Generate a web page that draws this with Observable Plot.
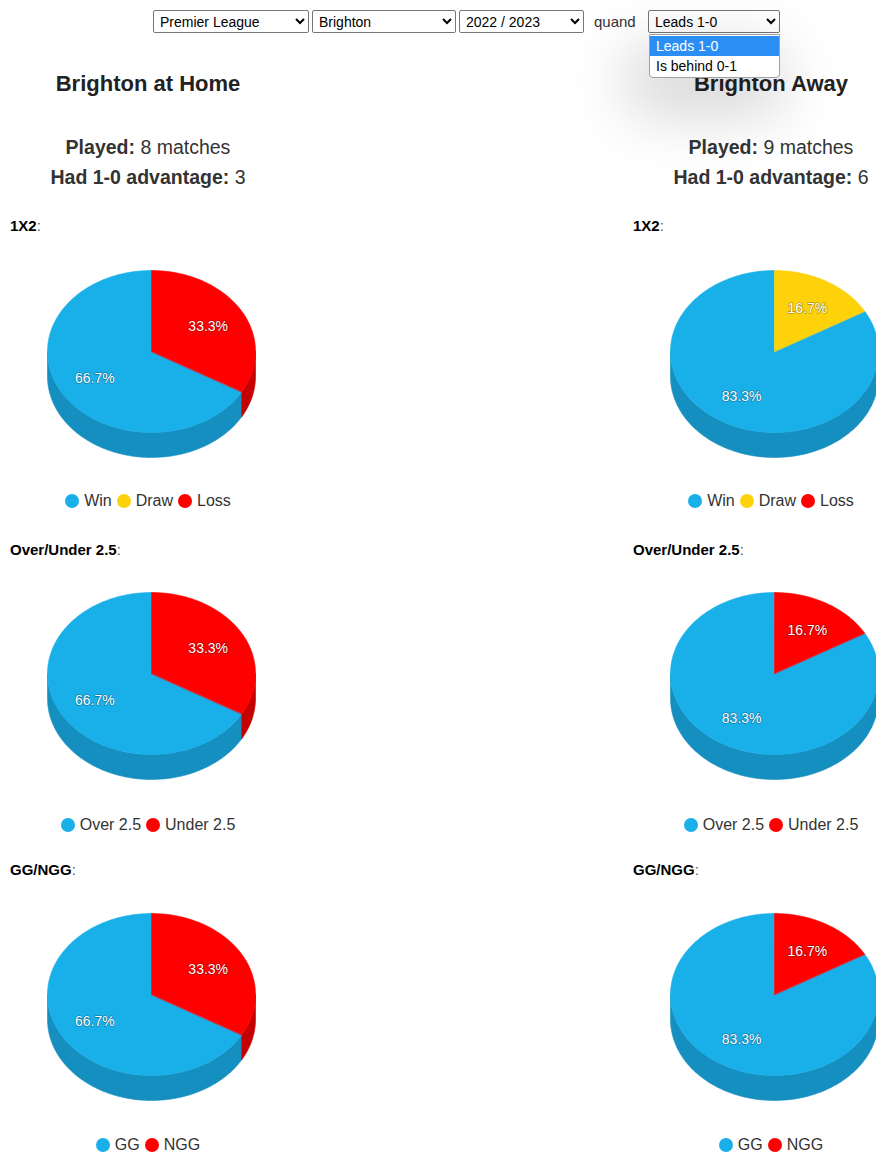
<!DOCTYPE html>
<html>
<head>
<meta charset="utf-8">
<script src="https://cdn.jsdelivr.net/npm/d3@7"></script>
<script src="https://cdn.jsdelivr.net/npm/@observablehq/plot@0.6"></script>
<style>
html,body{margin:0;padding:0;background:#fff;}
body{width:876px;height:1153px;overflow:hidden;position:relative;font-family:Arial,"Liberation Sans",sans-serif;color:#333;}
.abs{position:absolute;}
select{position:absolute;top:10px;height:23px;font-family:Arial,"Liberation Sans",sans-serif;font-size:14px;color:#000;background:#fff;border:1px solid #767676;border-radius:2px;padding:0 2px;margin:0;}
.quand{position:absolute;left:594px;top:10px;line-height:23px;font-size:15px;color:#333;}
.droplist{position:absolute;left:649px;top:34px;width:129px;height:42px;background:#fff;border:1px solid #a0a0a0;border-radius:0 0 4px 4px;box-shadow:-10px 25px 60px 12px rgba(0,0,0,0.16);z-index:5;font-size:14px;}
.droplist div{height:20px;line-height:20px;padding-left:6px;color:#000;}
.droplist .sel{background:#2b8ef5;color:#fff;margin-top:1px;}
.heading{width:296px;text-align:center;font-weight:bold;font-size:22px;line-height:26px;color:#222;}
.stats{width:296px;text-align:center;font-size:19.5px;line-height:30px;color:#333;}
.stats b{color:#333;}
.section{font-size:15px;line-height:16px;color:#000;}
.section span{color:#555;font-weight:normal;}
.legend{width:296px;display:flex;justify-content:center;align-items:center;font-size:16px;line-height:20px;color:#333;}
.legend .item{display:flex;align-items:center;margin:0 2.5px;}
.legend .sw{width:14px;height:14px;border-radius:50%;margin-right:5px;display:inline-block;}
</style>
</head>
<body>
<script>
// ---- data ----
const team = "Brighton";
const league = "Premier League";
const season = "2022 / 2023";
const conditionOptions = ["Leads 1-0", "Is behind 0-1"];
const playedCounts = [8, 9];        // home, away
const advantageCounts = [3, 6];     // home, away
const sectionTitles = ["1X2", "Over/Under 2.5", "GG/NGG"];
const catsWDL = ["Win", "Draw", "Loss"];
const catsOU = ["Over 2.5", "Under 2.5"];
const catsGG = ["GG", "NGG"];
const homeWDL = [66.7, 0, 33.3];
const awayWDL = [83.3, 16.7, 0];
const homeOU = [66.7, 33.3];
const awayOU = [83.3, 16.7];
const homeGG = [66.7, 33.3];
const awayGG = [83.3, 16.7];

// ---- styles ----
const topColor = {"Win": "#19b0ea", "Draw": "#fdd20b", "Loss": "#fe0000",
  "Over 2.5": "#19b0ea", "Under 2.5": "#fe0000", "GG": "#19b0ea", "NGG": "#fe0000"};
const sideColor = {"#19b0ea": "#158ec0", "#fdd20b": "#cfa900", "#fe0000": "#c40000"};

const body = document.body;
function el(tag, cls, html, style) {
  const e = document.createElement(tag);
  if (cls) e.className = cls;
  if (html != null) e.innerHTML = html;
  if (style) Object.assign(e.style, style);
  body.appendChild(e);
  return e;
}

// top controls
function sel(opts, left, width) {
  const s = document.createElement("select");
  opts.forEach(o => { const op = document.createElement("option"); op.textContent = o; s.appendChild(op); });
  s.style.left = left + "px"; s.style.width = width + "px";
  body.appendChild(s);
}
sel([league], 153, 156);
sel([team], 312, 144);
sel([season], 459, 125);
el("div", "quand", "quand");
sel([conditionOptions[0]], 648, 132);
const dl = el("div", "droplist");
conditionOptions.forEach((o, i) => {
  const d = document.createElement("div");
  d.textContent = o;
  if (i === 0) d.className = "sel";
  dl.appendChild(d);
});

// layout
const colX = [0, 623];
const pieCY = [351, 673, 994];
const sectionY = [226, 550, 870];
const legendY = [501, 825, 1145];
const pieCX = 150.7;

const titles = [team + " at Home", team + " Away"];
const charts = [
  [[catsWDL, homeWDL], [catsOU, homeOU], [catsGG, homeGG]],
  [[catsWDL, awayWDL], [catsOU, awayOU], [catsGG, awayGG]]
];

function pie3d(cats, vals) {
  const rx = 104, ry = 81, depth = 25, W = 250, H = 220, yTop = -105;
  const arcs = d3.pie().sort(null).startAngle(0).endAngle(-2 * Math.PI)(vals);
  const pt = (t, k = 1) => ({x: rx * k * Math.sin(t), y: -ry * k * Math.cos(t)});
  const tops = [], sides = [], labels = [];
  arcs.forEach((a, i) => {
    if (vals[i] <= 0) return;
    const col = topColor[cats[i]];
    const lo = Math.min(a.startAngle, a.endAngle), hi = Math.max(a.startAngle, a.endAngle);
    const n = Math.max(2, Math.ceil((hi - lo) / 0.02));
    tops.push({id: "t" + i, x: 0, y: 0, fill: col});
    for (let j = 0; j <= n; j++) {
      const p = pt(lo + (hi - lo) * j / n);
      tops.push({id: "t" + i, x: p.x, y: p.y, fill: col});
    }
    const s = Math.max(lo, -1.5 * Math.PI), e = Math.min(hi, -0.5 * Math.PI);
    if (e > s) {
      const m = Math.max(2, Math.ceil((e - s) / 0.02));
      const sc = sideColor[col];
      for (let j = 0; j <= m; j++) {
        const p = pt(s + (e - s) * j / m);
        sides.push({id: "s" + i, x: p.x, y: p.y, fill: sc});
      }
      for (let j = m; j >= 0; j--) {
        const p = pt(s + (e - s) * j / m);
        sides.push({id: "s" + i, x: p.x, y: p.y + depth, fill: sc});
      }
    }
    const mid = (lo + hi) / 2;
    const lp = pt(mid, 0.63);
    labels.push({x: lp.x, y: lp.y, text: vals[i].toFixed(1) + "%"});
  });
  return Plot.plot({
    width: W, height: H, margin: 0,
    x: {domain: [-W / 2, W / 2], axis: null},
    y: {domain: [yTop, yTop + H], reverse: true, axis: null},
    color: {type: "identity"},
    marks: [
      Plot.line(sides, {x: "x", y: "y", z: "id", fill: "fill", stroke: "fill", strokeWidth: 0.6, curve: "linear-closed"}),
      Plot.line(tops, {x: "x", y: "y", z: "id", fill: "fill", stroke: "fill", strokeWidth: 0.6, curve: "linear-closed"}),
      Plot.text(labels, {x: "x", y: "y", text: "text", fill: "white", fontSize: 14,
        fontFamily: "Arial, 'Liberation Sans', sans-serif", stroke: "rgba(0,0,0,0.28)", strokeWidth: 1.6,
        paintOrder: "stroke", textAnchor: "middle", dy: 1})
    ]
  });
}

[0, 1].forEach(c => {
  const x0 = colX[c];
  el("div", "heading abs", titles[c], {left: x0 + "px", top: "71px"});
  el("div", "stats abs", "<b>Played:</b> " + playedCounts[c] + " matches<br><b>Had 1-0 advantage:</b> " + advantageCounts[c],
    {left: x0 + "px", top: "132px"});
  charts[c].forEach(([cats, vals], r) => {
    el("div", "section abs", "<b>" + sectionTitles[r] + "</b><span>:</span>", {left: (x0 + 10) + "px", top: (sectionY[r] - 8) + "px"});
    const svg = pie3d(cats, vals);
    svg.style.position = "absolute";
    svg.style.left = (x0 + pieCX - 125) + "px";
    svg.style.top = (pieCY[r] - 105) + "px";
    body.appendChild(svg);
    const lg = el("div", "legend abs", null, {left: x0 + "px", top: (legendY[r] - 10) + "px"});
    cats.forEach(cat => {
      const it = document.createElement("span");
      it.className = "item";
      it.innerHTML = '<span class="sw" style="background:' + topColor[cat] + '"></span>' + cat;
      lg.appendChild(it);
    });
  });
});
</script>
</body>
</html>
